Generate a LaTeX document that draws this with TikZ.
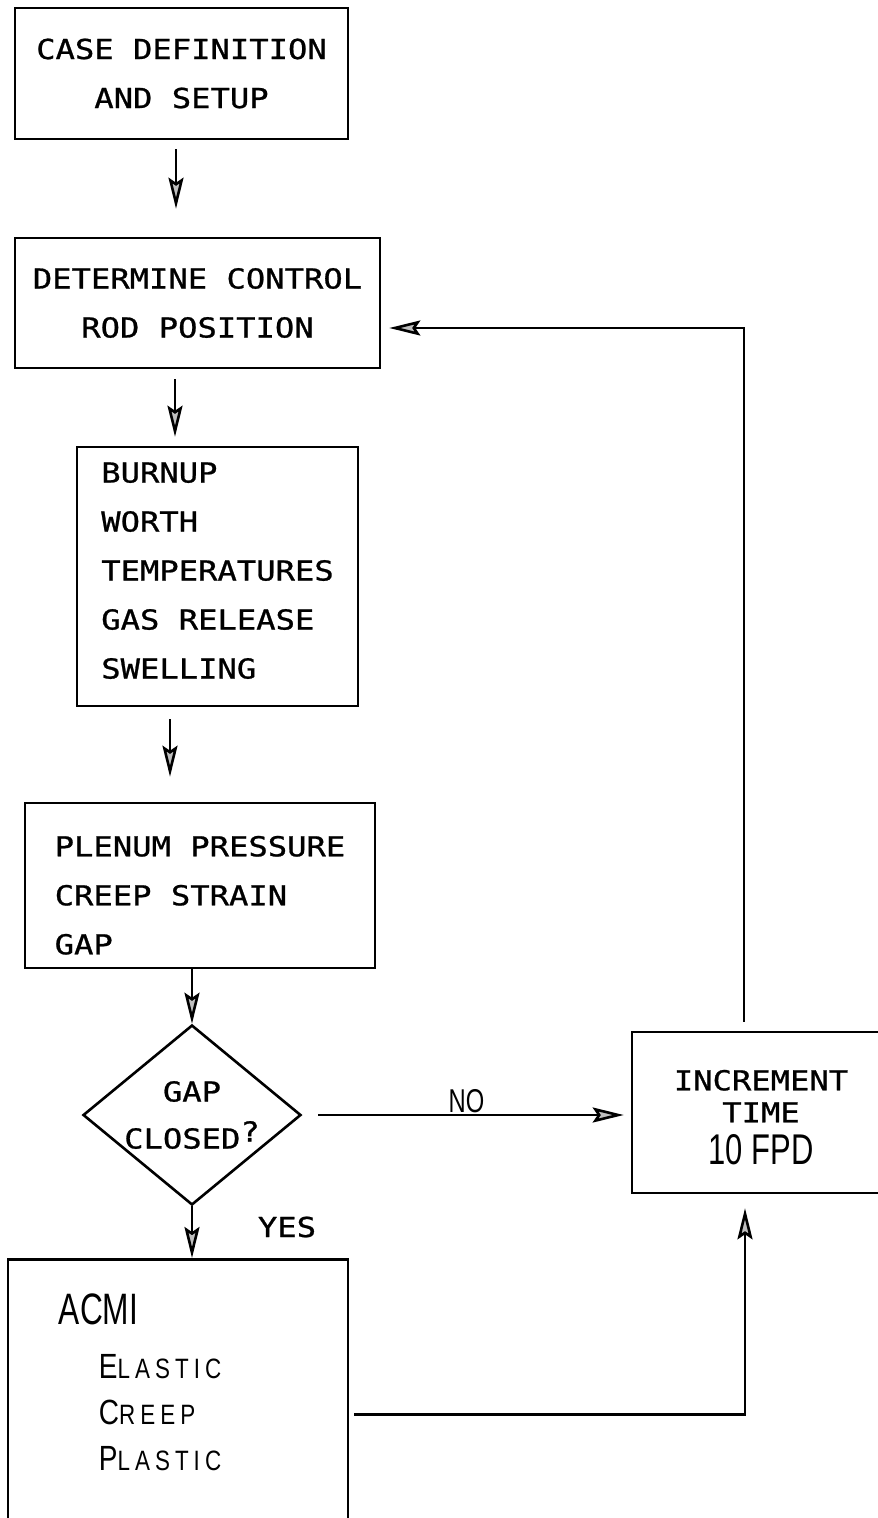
\documentclass[tikz,border=0pt]{standalone}
\usepackage{fontspec}
\usepackage{tikz}
\usetikzlibrary{
  shapes.geometric,
  arrows.meta,
  positioning,
  calc
}
\newfontfamily\typefont[FakeStretch=1.17, FakeBold=0.9]{DejaVu Sans Mono}
\newfontfamily\condfont[FakeStretch=0.72]{Liberation Sans}
\newfontfamily\condwide[FakeStretch=0.8, LetterSpace=18]{Liberation Sans}
% small caps made by hand: large first letter, smaller rest
\newcommand{\handsc}[2]{{\condwide\fontsize{35}{35}\selectfont #1}{\condwide\fontsize{28}{28}\selectfont #2}}
\tikzset{
  flow/.style    = {-{Stealth[length=31pt, width=15pt, inset=5pt, fill=gray!50]},
                    line width=2.6pt},
  box/.style     = {draw, line width=2.6pt, inner sep=0pt, align=center,
                    font=\typefont\fontsize{27.5}{49}\selectfont},
  listbox/.style = {box, align=left},
  decision/.style = {draw, diamond, aspect=1.2, line width=2.6pt, inner sep=-3pt,
                     align=center, font=\typefont\fontsize{27.5}{47}\selectfont},
  tag/.style     = {inner sep=2pt, font=\typefont\fontsize{27.5}{33}\selectfont},
}
\begin{document}
\begin{tikzpicture}[x=1pt, y=-1pt]
    \useasboundingbox (0,0) rectangle (878,1518);

    % Main column
    \node[box, minimum width=333, minimum height=131] (casedef) at (181.5,73.5)
        {CASE DEFINITION\\AND SETUP};
    \node[box, minimum width=365, minimum height=130] (rodpos) at (197.5,303)
        {DETERMINE CONTROL\\ROD POSITION};
    \node[listbox, minimum width=281, minimum height=259] (burnup) at (217.5,576.5)
        {BURNUP\\WORTH\\TEMPERATURES\\GAS RELEASE\\SWELLING\rule[-12pt]{0pt}{12pt}};
    \node[listbox, minimum width=350, minimum height=165] (plenum) at (200,885.5)
        {\rule{0pt}{40pt}PLENUM PRESSURE\\CREEP STRAIN\\GAP};
    \node[decision, minimum width=218, minimum height=180] (gapq) at (192,1115)
        {GAP\\CLOSED\raisebox{7pt}{?}};

    % ACMI box runs off the bottom of the page
    \node[box, minimum width=340, minimum height=310, anchor=north] (acmi) at (178,1258) {};
    \node[anchor=north west, align=left, inner sep=0pt,
          font=\condfont\fontsize{30}{46}\selectfont] (acmitxt)
        at ([xshift=52, yshift=-36]acmi.north west)
        {{\fontsize{44}{46}\selectfont ACMI}\\[8pt]
         \hspace*{40pt}\handsc{E}{LASTIC}\\
         \hspace*{40pt}\handsc{C}{REEP}\\
         \hspace*{40pt}\handsc{P}{LASTIC}};

    % Time step box, cut at the right edge
    \node[box, minimum width=258, minimum height=161,
          font=\typefont\fontsize{27.5}{32}\selectfont] (incr) at (761,1112.5)
        {\rule{0pt}{30pt}INCREMENT\\TIME\\[10pt]{\condfont\fontsize{43}{43}\selectfont 10 FPD}};

    % Connectors
    \draw[flow, shorten <=9, shorten >=28]
        ([xshift=-5.5]casedef.south) -- ([xshift=-5.5]casedef.south |- rodpos.north);
    \draw[flow, shorten <=10, shorten >=9]
        ([xshift=-22.5]rodpos.south) -- ([xshift=-22.5]rodpos.south |- burnup.north);
    \draw[flow, shorten <=12, shorten >=25]
        ([xshift=-47.5]burnup.south) -- ([xshift=-47.5]burnup.south |- plenum.north);
    \draw[flow] (plenum.south -| gapq.north) -- (gapq.north);
    \draw[flow] (gapq.south) -- (gapq.south |- acmi.north);
    \node[tag] (yes) at (287,1227) {YES};
    \draw[flow, shorten <=16, shorten >=7]
        (gapq.east) -- (gapq.east -| incr.west)
        node[midway, above, inner sep=1pt, font=\condfont\fontsize{33}{33}\selectfont] (no) {NO};
    \draw[flow, shorten <=9, shorten >=8]
        ([xshift=-17]incr.north) |- ([yshift=-25]rodpos.east);
    \draw[flow, shorten <=5, shorten >=14]
        (acmi.east) -| ([xshift=-16]incr.south);

\end{tikzpicture}
\end{document}
